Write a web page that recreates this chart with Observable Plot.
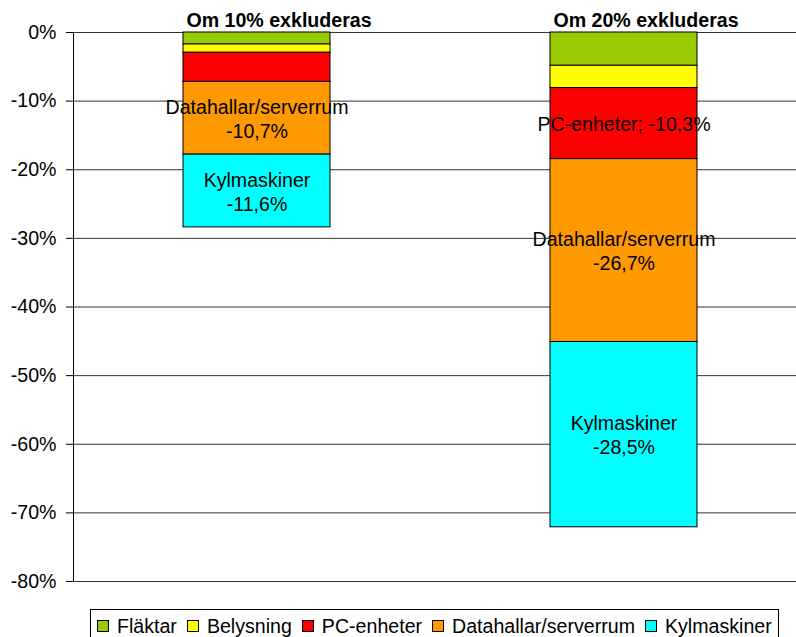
<!DOCTYPE html>
<html><head><meta charset="utf-8">
<script src="https://cdn.jsdelivr.net/npm/d3@7"></script>
<script src="https://cdn.jsdelivr.net/npm/@observablehq/plot@0.6"></script>
<style>
body{margin:0;background:#fff;font-family:"Liberation Sans",Arial,sans-serif;}
#chart{position:absolute;left:0;top:0;}
#legend{position:absolute;left:90px;top:609px;width:689px;height:34px;border:1px solid #000;box-sizing:border-box;display:flex;align-items:center;padding-left:6px;font-size:19.6px;color:#000;background:#fff;}
.item{display:flex;align-items:center;margin-right:10px;white-space:nowrap}
.sw{width:12px;height:12px;border:1px solid #000;margin-right:8px;box-sizing:border-box}
</style></head><body><div id="chart"></div><div id="legend"></div>
<script>
const categories = ["Om 10% exkluderas", "Om 20% exkluderas"];
const series = ["Fläktar", "Belysning", "PC-enheter", "Datahallar/serverrum", "Kylmaskiner"];
const colors = ["#99CC00", "#FFFF00", "#FF0000", "#FF9900", "#00FFFF"];
const values10 = [-1.75, -1.2, -4.25, -10.6, -10.6];
const values20 = [-4.85, -3.25, -10.35, -26.65, -27.0];
const labels10 = ["", "", "", "Datahallar/serverrum\n-10,7%", "Kylmaskiner\n-11,6%"];
const labels20 = ["", "", "PC-enheter; -10,3%", "Datahallar/serverrum\n-26,7%", "Kylmaskiner\n-28,5%"];
const yTicks = [0, -10, -20, -30, -40, -50, -60, -70, -80];

const valueSets = [values10, values20];
const labelSets = [labels10, labels20];
const rows = categories.flatMap((c, i) => series.map((s, j) => ({cat: c, series: s, value: valueSets[i][j], label: labelSets[i][j]})));

const font = '"Liberation Sans", Arial, sans-serif';
const fs = 19.6;
const chart = Plot.plot({
  width: 796, height: 600,
  marginTop: 32, marginBottom: 19, marginLeft: 73, marginRight: 0,
  style: {fontFamily: font, fontSize: fs + "px", background: "#fff", color: "#000"},
  x: {domain: categories, range: [72.5, 807], paddingInner: 0.6, paddingOuter: 0.3, axis: null},
  y: {domain: [-80, 0], axis: null},
  color: {domain: series, range: colors},
  marks: [
    Plot.gridY(yTicks, {stroke: "#000", strokeOpacity: 0.8, strokeWidth: 1}),
    Plot.axisY({ticks: yTicks, tickFormat: d => `${d}%`, tickSize: 7, tickPadding: 10, fontSize: fs, stroke: "#000", strokeOpacity: 1, label: null}),
    Plot.barY(rows, Plot.stackY({x: "cat", y: "value", fill: "series", stroke: "#000", strokeWidth: 1})),
    Plot.text(rows, Plot.stackY({x: "cat", y: "value", text: "label", lineHeight: 1.22, fontSize: fs, fill: "#000"})),
    Plot.frame({anchor: "left", stroke: "#000"}),
    Plot.text(categories, {x: d => d, y: 0, dx: 22, dy: -12, text: d => d, fontWeight: "bold", fontSize: fs, fill: "#000"})
  ]
});
document.getElementById("chart").appendChild(chart);

const legend = document.getElementById("legend");
series.forEach((s, i) => {
  const item = document.createElement("div");
  item.className = "item";
  const sw = document.createElement("div");
  sw.className = "sw";
  sw.style.background = colors[i];
  const t = document.createElement("span");
  t.textContent = s;
  item.appendChild(sw); item.appendChild(t);
  legend.appendChild(item);
});
</script></body></html>
